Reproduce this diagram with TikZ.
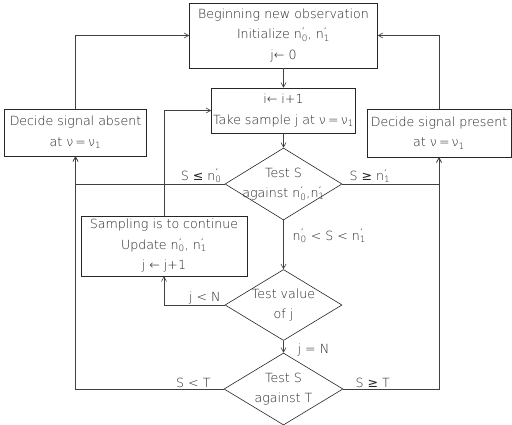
\documentclass[tikz,border=0pt]{standalone}
\usepackage{fontspec}
\IfFontExistsTF{DejaVu Sans ExtraLight}{\setmainfont{DejaVu Sans ExtraLight}}{\setmainfont{DejaVu Sans}}
\newfontfamily\symfont{DejaVu Sans}
\usetikzlibrary{shapes.geometric,arrows.meta}
\newcommand\nprime[1]{n\rlap{\textsuperscript{\kern0.6pt{\symfont ′}}}\textsubscript{#1}}
\newcommand\mle{{\symfont ≤}}
\newcommand\mge{{\symfont ≥}}
\newcommand\fs{\fontsize{12.6}{20.5}\selectfont}
\begin{document}
\begin{tikzpicture}[x=1pt,y=-1pt,
  box/.style={draw=black!85, line width=0.6pt, rectangle, inner sep=0pt, align=center, font=\fs, text=black!85},
  dia/.style={draw=black!85, line width=0.6pt, diamond, inner sep=0pt},
  lbl/.style={font=\fs, inner sep=1pt, text=black!85},
  dlbl/.style={font=\fs, inner sep=0pt, align=center, text=black!85},
  conn/.style={draw=black!75, line width=0.6pt},
  arr/.style={-{Straight Barb[length=4.5pt,width=5pt]}}]
\useasboundingbox (0,0) rectangle (512,425);
\fill[white] (0,0) rectangle (512,425);
% boxes
\node[box, minimum width=188pt, minimum height=65pt] (top) at (283.5,35.5)
  {Beginning new observation\\Initialize \nprime0, \nprime1\\j← 0};
\node[box, minimum width=144pt, minimum height=45pt] (samp) at (283.5,110.5)
  {i← i+1\\Take sample j at ν\,=\,ν\textsubscript{1}};
\node[box, minimum width=142pt, minimum height=47pt] (absent) at (75.5,132.5)
  {Decide signal absent\\at ν\,=\,ν\textsubscript{1}};
\node[box, minimum width=144pt, minimum height=48pt] (present) at (439,133)
  {Decide signal present\\at ν\,=\,ν\textsubscript{1}};
\node[box, minimum width=166pt, minimum height=60pt] (cont) at (164,246)
  {Sampling is to continue\\Update \nprime0, \nprime1\\j ← j+1};
% diamonds
\node[dia, minimum width=117pt, minimum height=72pt,
  label={[dlbl]center:Test S\\against \nprime0,\nprime1}] (d1) at (283.5,184) {};
\node[dia, minimum width=117pt, minimum height=71pt,
  label={[dlbl]center:Test value\\of j}] (d2) at (283.5,305) {};
\node[dia, minimum width=119pt, minimum height=72pt,
  label={[dlbl]center:Test S\\against T}] (d3) at (283.5,389) {};
% connectors
\draw[conn,arr] (top) -- (samp);
\draw[conn,arr] (samp) -- (d1);
\draw[conn,arr] (d1) -- (d2);
\draw[conn,arr] (d2) -- (d3);
\draw[conn,arr] (d1.west) -| (absent.south);
\draw[conn,arr] (d3.west) -| (absent.south);
\draw[conn,arr] (d1.east) -| (present.south);
\draw[conn,arr] (d3.east) -| (present.south);
\draw[conn,arr] (d2.west) -| (cont.south);
\draw[conn,arr] (cont.north) |- (samp.west);
\draw[conn,arr] (absent.north) |- (top.west);
\draw[conn,arr] (present.north) |- (top.east);
% labels
\node[lbl, anchor=south east] (l1) at ([xshift=-2pt]d1.west) {S \mle\ \nprime0};
\node[lbl, anchor=south west] (l2) at ([xshift=6pt]d1.east) {S \mge\ \nprime1};
\node[lbl, anchor=north west] (l3) at ([xshift=8pt,yshift=-8pt]d1.south) {\nprime0 < S < \nprime1};
\node[lbl, anchor=south east] (l4) at ([xshift=-3pt]d2.west) {j < N};
\node[lbl, anchor=west] (l5) at ([xshift=13pt,yshift=-9pt]d2.south) {j = N};
\node[lbl, anchor=south east] (l6) at ([xshift=-12pt]d3.west) {S < T};
\node[lbl, anchor=south west] (l7) at ([xshift=11pt]d3.east) {S \mge\ T};
\end{tikzpicture}
\end{document}
